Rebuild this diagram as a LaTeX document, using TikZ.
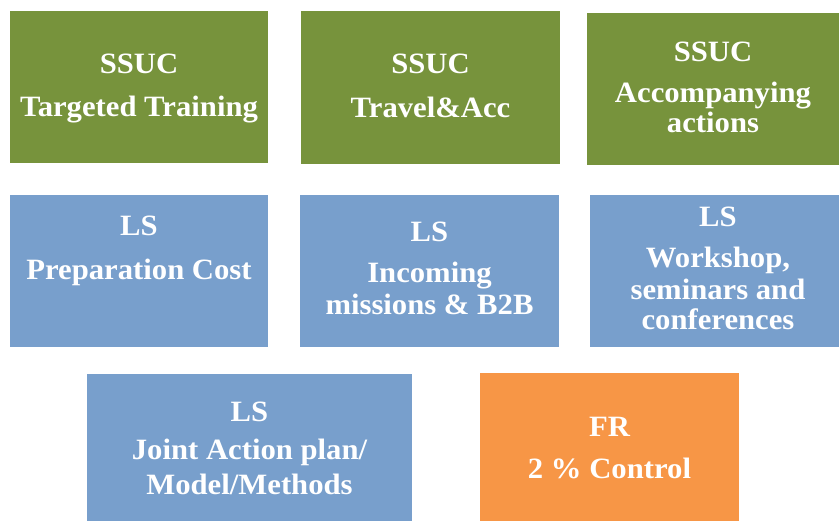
\documentclass[tikz,border=0pt]{standalone}
\usepackage{fontspec}
\setmainfont{Liberation Serif}[FakeStretch=1.04]
\definecolor{ssucgreen}{RGB}{119,147,60}
\definecolor{lsblue}{RGB}{120,159,204}
\definecolor{frorange}{RGB}{247,150,70}
\tikzset{
  boxshape/.style={draw=none, inner sep=0pt, outer sep=0pt, rectangle},
  lbl/.style={anchor=base, inner sep=0pt, text=white, font=\fontsize{29.5}{31}\selectfont\bfseries},
}
\begin{document}
\begin{tikzpicture}[x=1pt,y=-1pt]
\useasboundingbox (0,0) rectangle (839,521);
% boxes
\node[boxshape, fill=ssucgreen, minimum width=258pt, minimum height=152pt] (b1) at (139,87) {};
\node[boxshape, fill=ssucgreen, minimum width=259pt, minimum height=153pt] (b2) at (430.5,87.5) {};
\node[boxshape, fill=ssucgreen, minimum width=252pt, minimum height=152pt] (b3) at (713,89) {};
\node[boxshape, fill=lsblue, minimum width=258pt, minimum height=152pt] (b4) at (139,271) {};
\node[boxshape, fill=lsblue, minimum width=259pt, minimum height=152pt] (b5) at (429.5,271) {};
\node[boxshape, fill=lsblue, minimum width=249pt, minimum height=152pt] (b6) at (714.5,271) {};
\node[boxshape, fill=lsblue, minimum width=325pt, minimum height=147pt] (b7) at (249.5,447.5) {};
\node[boxshape, fill=frorange, minimum width=259pt, minimum height=148pt] (b8) at (609.5,447) {};
% texts
\node[lbl] (t1a) at (139,74) {SSUC};
\node[lbl] (t1b) at (139,117) {Targeted Training};
\node[lbl] (t2a) at (430.5,74) {SSUC};
\node[lbl] (t2b) at (430.5,118) {Travel\&Acc};
\node[lbl] (t3a) at (713,62) {SSUC};
\node[lbl] (t3b) at (713,103) {Accompanying};
\node[lbl] (t3c) at (713,133) {actions};
\node[lbl] (t4a) at (139,236) {LS};
\node[lbl] (t4b) at (139,280) {Preparation Cost};
\node[lbl] (t5a) at (429.5,242) {LS};
\node[lbl] (t5b) at (429.5,283) {Incoming};
\node[lbl] (t5c) at (429.5,315) {missions \& B2B};
\node[lbl] (t6a) at (718,227) {LS};
\node[lbl] (t6b) at (718,268) {Workshop,};
\node[lbl] (t6c) at (718,300) {seminars and};
\node[lbl] (t6d) at (718,330) {conferences};
\node[lbl] (t7a) at (249.5,422) {LS};
\node[lbl] (t7b) at (249.5,460) {Joint Action plan/};
\node[lbl] (t7c) at (249.5,495) {Model/Methods};
\node[lbl] (t8a) at (609.5,437) {FR};
\node[lbl] (t8b) at (609.5,479) {2 \% Control};
\end{tikzpicture}
\end{document}
